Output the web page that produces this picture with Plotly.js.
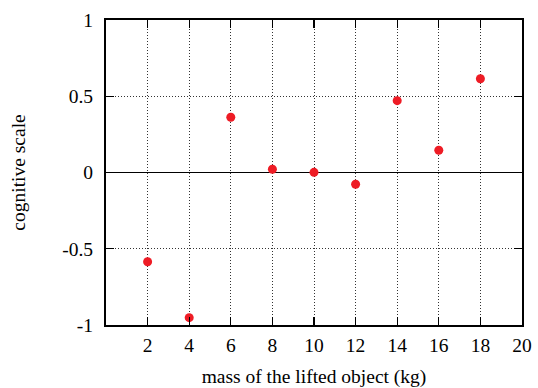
<!DOCTYPE html>
<html>
<head>
<meta charset="utf-8">
<script src="https://cdn.plot.ly/plotly-3.0.1.min.js"></script>
<style>html,body{margin:0;padding:0;background:#fff;}#chart{width:538px;height:388px;}</style>
</head>
<body>
<div id="chart"></div>
<script>
const massKg = [2, 4, 6, 8, 10, 12, 14, 16, 18];
const cognitiveScale = [-0.585, -0.952, 0.362, 0.021, 0.001, -0.077, 0.471, 0.146, 0.615];
const xTicks = [2, 4, 6, 8, 10, 12, 14, 16, 18, 20];
const yTicks = [-1, -0.5, 0, 0.5, 1];
const yTickLabels = ['-1', '-0.5', '0', '0.5', '1'];

const font = {family: '"Liberation Serif", "DejaVu Serif", serif', size: 19.5, color: '#000'};

const trace = {
  x: massKg, y: cognitiveScale, type: 'scatter', mode: 'markers',
  marker: {color: '#ee1c25', size: 9, line: {width: 0}},
  hoverinfo: 'skip'
};

const layout = {
  width: 538, height: 388,
  margin: {l: 106, r: 16, t: 20, b: 63},
  paper_bgcolor: '#fff', plot_bgcolor: '#fff',
  font: font,
  showlegend: false,
  xaxis: {
    range: [0, 20], tickvals: xTicks, ticktext: xTicks.map(String),
    ticks: 'inside', ticklen: 8, tickwidth: 1.2, tickcolor: '#000',
    showline: true, linecolor: '#000', linewidth: 2, mirror: 'ticks',
    showgrid: true, gridcolor: '#333', griddash: '1px,2px', gridwidth: 1,
    zeroline: false,
    tickfont: font, ticklabelstandoff: 2,
    title: {text: 'mass of the lifted object (kg)', font: font, standoff: 14}
  },
  yaxis: {
    range: [-1, 1], tickvals: yTicks, ticktext: yTickLabels,
    ticks: 'inside', ticklen: 8, tickwidth: 1.2, tickcolor: '#000',
    showline: true, linecolor: '#000', linewidth: 2, mirror: 'ticks',
    showgrid: true, gridcolor: '#333', griddash: '1px,2px', gridwidth: 1,
    zeroline: true, zerolinecolor: '#000', zerolinewidth: 1.2,
    tickfont: font, ticklabelstandoff: 7,
    title: {text: 'cognitive scale', font: font, standoff: 31}
  }
};

Plotly.newPlot('chart', [trace], layout, {staticPlot: true, displayModeBar: false});
</script>
</body>
</html>
